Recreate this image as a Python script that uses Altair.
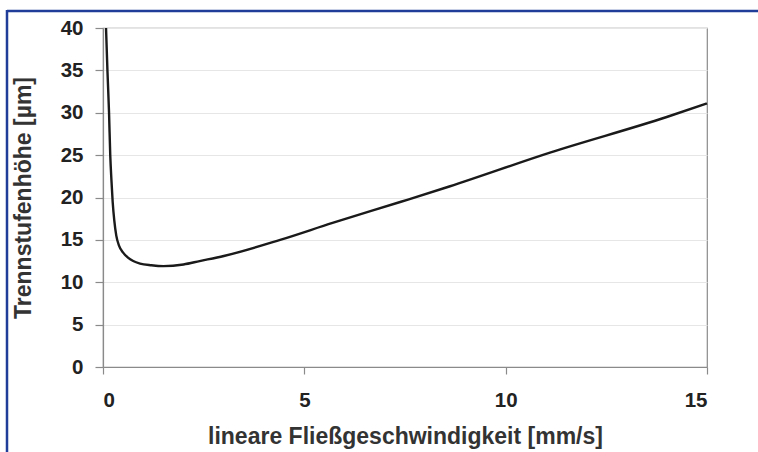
import altair as alt
import pandas as pd

# linear flow velocity [mm/s] and plate height [µm]
u_vals = [0.075, 0.11, 0.15, 0.18, 0.21, 0.24, 0.28, 0.33, 0.40, 0.50, 0.62, 0.75,
          0.92, 1.2, 1.5, 2.0, 2.4, 3.0, 4.4, 5.7, 7.4, 8.6, 11.1, 14.0, 15.0]
h_vals = [40.0, 35.0, 30.0, 25.0, 22.0, 19.5, 17.3, 15.5, 14.3, 13.5, 12.9, 12.5,
          12.2, 12.0, 11.9, 12.1, 12.5, 13.1, 15.0, 17.0, 19.5, 21.3, 25.3, 29.5, 31.1]

x_ticks = [0, 5, 10, 15]
y_ticks = [0, 5, 10, 15, 20, 25, 30, 35, 40]

df = pd.DataFrame({"u": u_vals, "h": h_vals})

FONT = "Liberation Sans"
BLUE = "#1f3d99"

line = alt.Chart(df).mark_line(
    color="#1a1a1a", strokeWidth=2.4, interpolate="monotone"
).encode(
    x=alt.X("u:Q", scale=alt.Scale(domain=[0, 15], nice=False),
            axis=alt.Axis(values=x_ticks, title="lineare Fließgeschwindigkeit [mm/s]",
                          grid=False, tickSize=7, labelPadding=16, titlePadding=15,
                          format="d")),
    y=alt.Y("h:Q", scale=alt.Scale(domain=[0, 40], nice=False),
            axis=alt.Axis(values=y_ticks, title="Trennstufenhöhe [µm]",
                          grid=True, tickSize=8, labelPadding=12, titlePadding=25,
                          format="d")),
)

frame_df = pd.DataFrame({"k": [0]})
frame_top = alt.Chart(frame_df).mark_rule(color=BLUE, strokeWidth=2.5).encode(
    x=alt.value(-96), x2=alt.value(660), y=alt.value(-17)
)
frame_left = alt.Chart(frame_df).mark_rule(color=BLUE, strokeWidth=2.5).encode(
    x=alt.value(-96), y=alt.value(-18), y2=alt.value(430)
)

chart = alt.layer(line, frame_top, frame_left).properties(
    width=604, height=339,
    autosize=alt.AutoSizeParams(type="none"),
    padding={"left": 103, "top": 28, "right": 51, "bottom": 85},
    background="white",
).configure_view(
    stroke="#8a8a8a", strokeWidth=1.2
).configure_axis(
    labelFont=FONT, titleFont=FONT,
    labelFontSize=20.5, labelFontWeight="bold", labelColor="#222222",
    titleFontSize=23, titleFontWeight="bold", titleColor="#333333",
    domainColor="#8a8a8a", domainWidth=1.2,
    tickColor="#8a8a8a", tickWidth=1.2,
    gridColor="#e6e6e6", gridWidth=1,
)

chart.save("out.html", embed_options={"renderer": "svg", "actions": False})
